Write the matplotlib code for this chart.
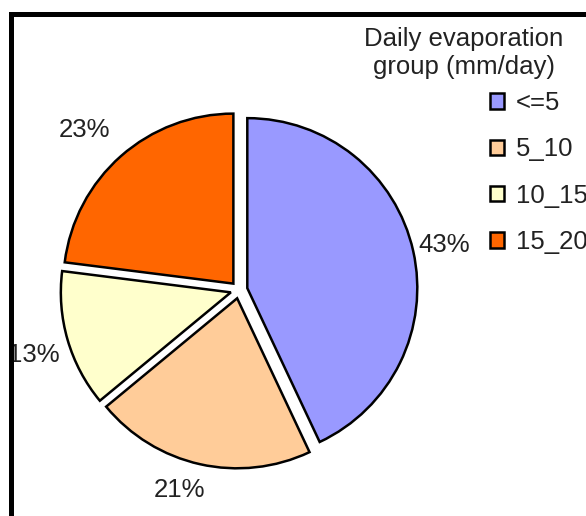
import matplotlib
matplotlib.use("Agg")
import numpy as np
import matplotlib.pyplot as plt
from matplotlib.patches import Rectangle

categories = ["<=5", "5_10", "10_15", "15_20"]
values = [43, 21, 13, 23]
colors = ["#9999FF", "#FFCC99", "#FFFFCC", "#FF6600"]
legend_title = "Daily evaporation\ngroup (mm/day)"

# label placement style (radial distance in radii, angular nudge in degrees)
label_dist = [1.185, 1.18, 1.215, 1.26]
label_dang = [-0.2, -4.2, 1.4, 2.8]

plt.rcParams['font.family'] = ['Liberation Sans', 'DejaVu Sans']

W, H = 586, 516
FS = 18.5
fig = plt.figure(figsize=(W / 100, H / 100), dpi=100)
fig.patch.set_facecolor("white")

R = 170.0
cx, cy = 239.0, H - 290.0
half = 1.5 * R
ax = fig.add_axes([(cx - half) / W, (cy - half) / H, 2 * half / W, 2 * half / H])

wedges, texts, autotexts = ax.pie(
    values, colors=colors, startangle=90, counterclock=False,
    explode=[0.05] * len(values),
    autopct=lambda p: f"{p:.0f}%", pctdistance=1.2,
    wedgeprops=dict(edgecolor="black", linewidth=1.8),
    textprops=dict(fontsize=FS, color="#222222"),
)
for w, t, d, da in zip(wedges, autotexts, label_dist, label_dang):
    ang = np.deg2rad((w.theta1 + w.theta2) / 2 + da)
    wx, wy = w.center
    t.set_position((wx + w.r * d * np.cos(ang), wy + w.r * d * np.sin(ang)))
    t.set_ha('center')
    t.set_va('center')

ax.set_xlim(-1.5, 1.5)
ax.set_ylim(-1.5, 1.5)
ax.set_aspect('equal', adjustable='box')
ax.axis('off')

fig.text(464 / W, 1 - 53 / H, legend_title, ha='center', va='center',
         fontsize=FS, color="#222222", linespacing=1.2)

leg = fig.legend(wedges, categories, loc='upper left',
                 bbox_to_anchor=(490 / W, 1 - 91 / H),
                 frameon=False, fontsize=FS, labelcolor="#222222",
                 handlelength=0.55, handleheight=0.55, handletextpad=0.45,
                 labelspacing=0.87, borderpad=0, borderaxespad=0)

frame = Rectangle((10.5 / W, -0.2), 1.5, (1 - 13.5 / H) + 0.2, transform=fig.transFigure,
                  fill=False, edgecolor="black", linewidth=3.6, zorder=5)
fig.patches.append(frame)

fig.savefig("out.png", dpi=100, facecolor="white")
